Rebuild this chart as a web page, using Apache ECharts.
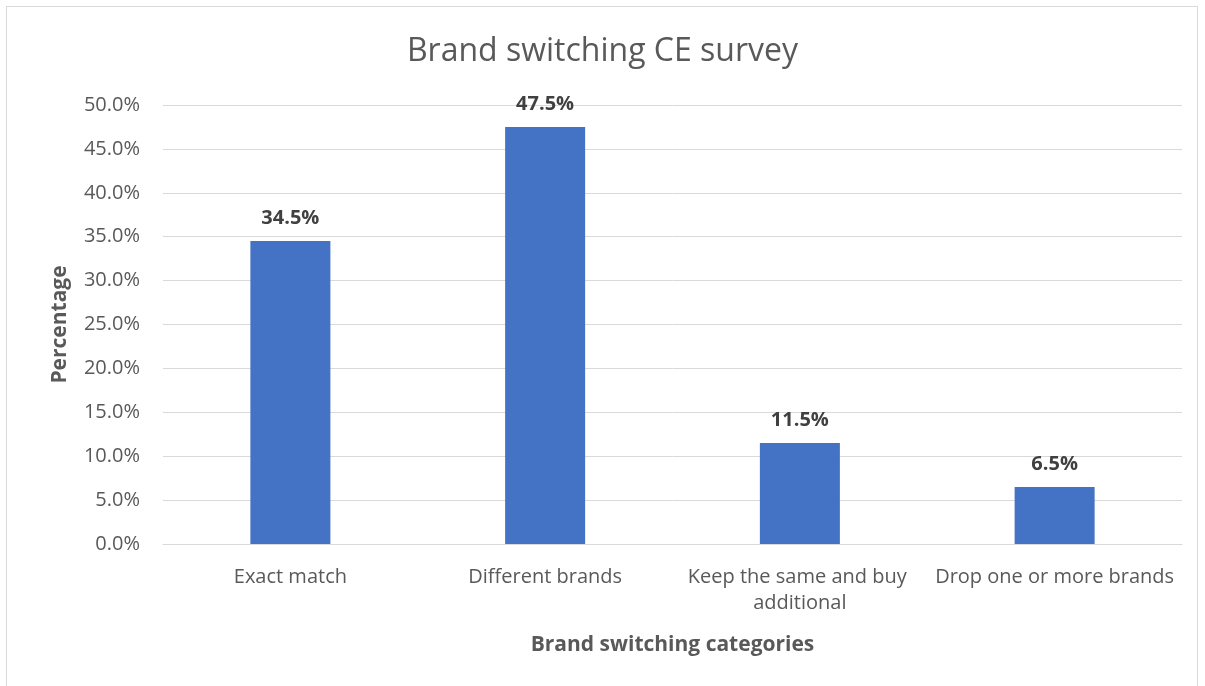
<!DOCTYPE html>
<html>
<head>
<meta charset="utf-8">
<script src="https://cdn.jsdelivr.net/npm/echarts@6/dist/echarts.min.js"></script>
<style>
  html, body { margin: 0; padding: 0; background: #fff; overflow: hidden; }
  #frame { position: absolute; left: 6px; top: 6px; width: 1192px; height: 700px; border: 1px solid #d9d9d9; box-sizing: border-box; }
  #chart { position: absolute; left: 0; top: 0; width: 1205px; height: 686px; }
</style>
</head>
<body>
<div id="frame"></div>
<div id="chart"></div>
<script>
const categories = ['Exact match', 'Different brands', 'Keep the same and buy additional', 'Drop one or more brands'];
const shares = [34.5, 47.5, 11.5, 6.5];

const FONT = '"Open Sans", sans-serif';
const chart = echarts.init(document.getElementById('chart'));
chart.setOption({
  backgroundColor: 'transparent',
  title: {
    text: 'Brand switching CE survey',
    left: 'center',
    top: 31,
    textStyle: { fontFamily: FONT, fontSize: 32, fontWeight: 'normal', color: '#595959' }
  },
  grid: { left: 163, right: 23, top: 105, bottom: 142 },
  xAxis: {
    type: 'category',
    data: categories,
    name: 'Brand switching categories',
    nameLocation: 'middle',
    nameGap: 91,
    nameTextStyle: { fontFamily: FONT, fontSize: 21, fontWeight: 'bold', color: '#595959' },
    axisLine: { show: true, lineStyle: { color: '#d9d9d9', width: 1 } },
    axisTick: { show: false },
    axisLabel: {
      fontFamily: FONT, fontSize: 20, color: '#595959', margin: 20,
      width: 254, overflow: 'break', lineHeight: 26, interval: 0
    }
  },
  yAxis: {
    type: 'value',
    min: 0, max: 50, interval: 5,
    name: 'Percentage',
    nameLocation: 'middle',
    nameGap: 92,
    nameRotate: 90,
    nameTextStyle: { fontFamily: FONT, fontSize: 21, fontWeight: 'bold', color: '#595959' },
    axisLine: { show: false },
    axisTick: { show: false },
    splitLine: { lineStyle: { color: '#d9d9d9', width: 1 } },
    axisLabel: {
      fontFamily: FONT, fontSize: 20, color: '#595959', margin: 23,
      formatter: v => v.toFixed(1) + '%'
    }
  },
  series: [{
    type: 'bar',
    data: shares,
    barWidth: 80,
    itemStyle: { color: '#4472c4' },
    label: {
      show: true, position: 'top', distance: 13,
      fontFamily: FONT, fontSize: 20, fontWeight: 'bold', color: '#404040',
      formatter: p => p.value.toFixed(1) + '%'
    }
  }],
  animation: false
});
</script>
</body>
</html>
